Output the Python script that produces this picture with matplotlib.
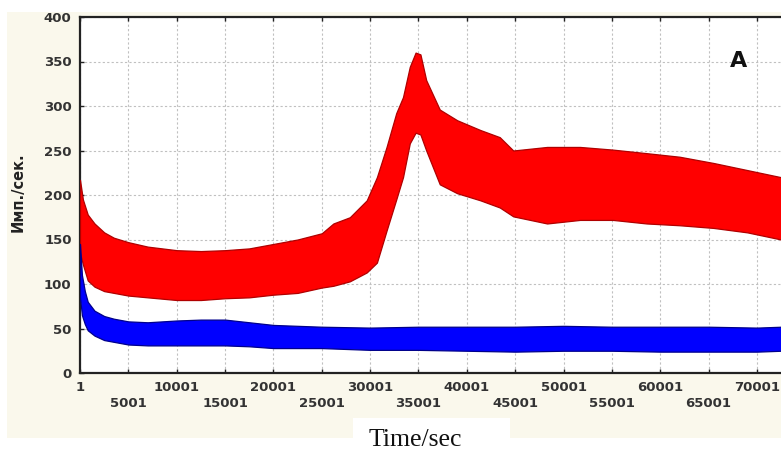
import matplotlib
matplotlib.use("Agg")
import matplotlib.pyplot as plt
from matplotlib.patches import Rectangle

# --- данные (огибающие шумовых полос) ---
red_t = [1, 300, 800, 1500, 2500, 3500, 5000, 7000, 10000, 12500, 15000,
         17500, 20000, 22500, 25000, 26200, 27900, 29650, 30700, 31700,
         32700, 33400, 34100, 34700, 35200, 35800, 37200, 39000, 41400,
         43400, 44800, 48300, 51700, 55100, 58600, 62000, 65500, 69000, 72500]
red_top = [217, 195, 178, 168, 158, 152, 147, 142, 138, 137, 138,
           140, 145, 150, 157, 168, 175, 194, 220, 254,
           292, 310, 344, 360, 358, 329, 296, 284, 273,
           265, 250, 254, 254, 251, 247, 243, 236, 228, 220]
red_low = [135, 122, 104, 97, 92, 90, 87, 85, 82, 82, 84,
           85, 88, 90, 96, 98, 103, 113, 124, 160,
           195, 220, 258, 270, 268, 250, 212, 202, 194,
           186, 176, 168, 172, 172, 168, 166, 163, 158, 150]

blue_t = [1, 200, 500, 800, 1500, 2500, 3500, 5000, 7000, 10000, 12500,
          15000, 17500, 20000, 25000, 30000, 35000, 40000, 45000, 50000,
          55000, 60000, 65000, 70000, 72500]
blue_top = [145, 110, 92, 80, 70, 64, 61, 58, 57, 59, 60,
            60, 57, 54, 52, 51, 52, 52, 52, 53,
            52, 52, 52, 51, 52]
blue_low = [85, 65, 55, 48, 42, 37, 35, 32, 31, 31, 31,
            31, 30, 28, 28, 26, 26, 25, 24, 25,
            25, 24, 24, 24, 25]

x_ticks = list(range(1, 70002, 5000))
y_ticks = list(range(0, 401, 50))

W, H = 781, 453
fig = plt.figure(figsize=(W / 100, H / 100), dpi=100)
fig.patch.set_facecolor("white")

# кремовая подложка и белая плашка под подписью оси X
cream = "#faf8ec"
fig.patches.append(Rectangle((7 / W, (H - 438) / H), 1 - 7 / W, (438 - 12) / H,
                             transform=fig.transFigure, facecolor=cream,
                             edgecolor="none", zorder=-2))
fig.patches.append(Rectangle((353 / W, 0), (510 - 353) / W, (H - 418) / H,
                             transform=fig.transFigure, facecolor="white",
                             edgecolor="none", zorder=-1))

ax = fig.add_axes([80 / W, (H - 373) / H, (W - 80) / W, (373 - 17) / H])
ax.set_facecolor("white")

ax.fill_between(red_t, red_low, red_top, facecolor="#ff0000",
                edgecolor="#b00000", linewidth=0.9, zorder=3)
ax.fill_between(blue_t, blue_low, blue_top, facecolor="#0000ff",
                edgecolor="#00008b", linewidth=0.9, zorder=3)

ax.set_xlim(1, 72485)
ax.set_ylim(0, 400)
ax.set_xticks(x_ticks)
ax.set_xticklabels([str(v) if i % 2 == 0 else "\n" + str(v)
                    for i, v in enumerate(x_ticks)])
ax.set_yticks(y_ticks)
ax.set_yticklabels([str(v) for v in y_ticks])

for lab in ax.get_xticklabels() + ax.get_yticklabels():
    lab.set_fontweight("bold")
    lab.set_fontsize(9.5)
    lab.set_color("#333333")
    lab.set_linespacing(1.25)

ax.tick_params(axis="both", direction="in", length=3, width=1, color="#222222")
ax.tick_params(axis="x", top=True, pad=6)
ax.tick_params(axis="y", pad=6)

ax.grid(True, color="#c0c0c0", linestyle=(0, (2, 2)), linewidth=0.8)
ax.set_axisbelow(True)

ax.spines["right"].set_visible(False)
for s in ["left", "bottom", "top"]:
    ax.spines[s].set_color("#222222")
    ax.spines[s].set_linewidth(1.6)

fig.text(18 / W, 1 - 192 / H, "Имп./сек.", rotation=90, fontsize=10.5,
         fontweight="bold", color="#222222", ha="center", va="center")
fig.text(739 / W, 1 - 61 / H, "A", fontsize=16, fontweight="bold",
         color="#111111", ha="center", va="center")
fig.text(415 / W, 1 - 440 / H, "Time/sec", fontsize=18.5,
         family="Liberation Serif", color="#111111", ha="center", va="center")

fig.savefig("out.png", dpi=100, facecolor=fig.get_facecolor())
